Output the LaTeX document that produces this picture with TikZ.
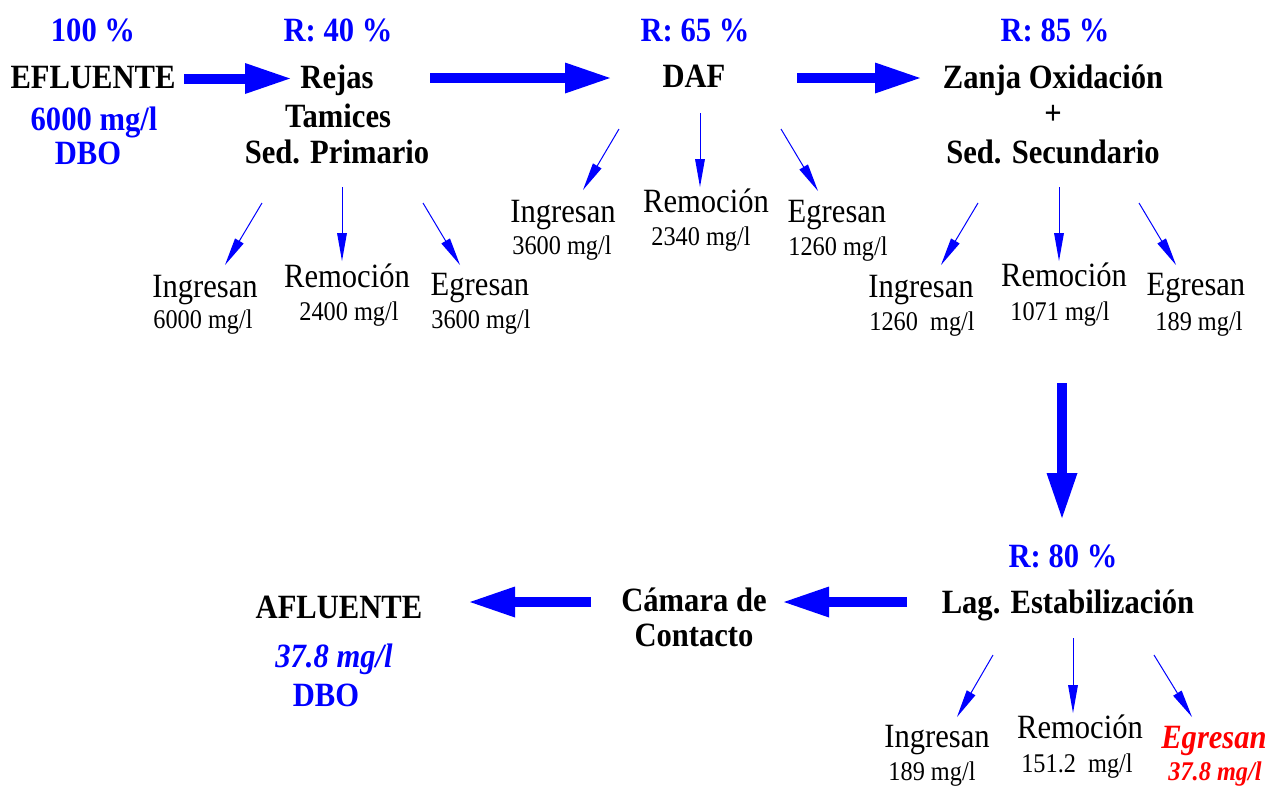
\documentclass[tikz,border=0pt]{standalone}
\usepackage{fontspec}
\setmainfont[FakeStretch=0.9]{Liberation Serif}
\usetikzlibrary{arrows.meta}
\definecolor{flow}{RGB}{0,0,255}
\definecolor{outred}{RGB}{255,0,0}
\tikzset{
  txt/.style={anchor=base, inner sep=0pt, outer sep=0pt},
  stage/.style={txt, font=\fontsize{34}{40}\selectfont\bfseries},
  pct/.style={stage, text=flow},
  lbl/.style={txt, font=\fontsize{34}{40}\selectfont},
  val/.style={txt, font=\fontsize{27}{32}\selectfont},
  bigflow/.style={draw=flow, line width=10pt,
    -{Triangle[length=45pt,width=31pt,line width=0pt]}},
  split/.style={draw=flow, line width=1pt,
    -{Triangle[length=28pt,width=10pt,line width=0pt]}},
}
\begin{document}
\begin{tikzpicture}[x=1pt,y=-1pt]
\useasboundingbox (0,0) rectangle (1272,785);

% ---- main line, top row ----
\node[pct]   (p0)  at (93,41)   {100 \%};
\node[stage] (efl) at (93,88)   {EFLUENTE};
\node[pct]   (efv) at (94,130)  {6000 mg/l};
\node[pct]   (efd) at (88,164)  {DBO};

\node[pct]   (p1)  at (338,41)  {R: 40 \%};
\node[stage] (s1a) at (337,88)  {Rejas};
\node[stage] (s1b) at (338,127) {Tamices};
\node[stage] (s1c) at (337,163) {Sed. Primario};

\node[pct]   (p2)  at (695,41)  {R: 65 \%};
\node[stage] (s2)  at (694,87)  {DAF};

\node[pct]   (p3)  at (1055,41)  {R: 85 \%};
\node[stage] (s3a) at (1053,88)  {Zanja Oxidación};
\node[stage] (s3b) at (1053,124) {+};
\node[stage] (s3c) at (1053,163) {Sed. Secundario};

% ---- bottom row ----
\node[pct]   (p4)  at (1063,567) {R: 80 \%};
\node[stage] (s4)  at (1068,613) {Lag. Estabilización};

\node[stage] (s5a) at (694,611) {Cámara de};
\node[stage] (s5b) at (694,646) {Contacto};

\node[stage] (afl) at (339,618) {AFLUENTE};
\node[pct, font=\fontsize{34}{40}\selectfont\bfseries\itshape] (afv) at (334,667) {37.8 mg/l};
\node[pct]   (afd) at (326,706) {DBO};

% ---- main flow arrows ----
\coordinate (m1s) at (184,78.5);  \coordinate (m1e) at (290,78.5);
\coordinate (m2s) at (430,78);    \coordinate (m2e) at (610,78);
\coordinate (m3s) at (797,78);    \coordinate (m3e) at (920,78);
\coordinate (m4s) at (1062,383);  \coordinate (m4e) at (1062,518);
\coordinate (m5s) at (907,602);   \coordinate (m5e) at (784,602);
\coordinate (m6s) at (591,602);   \coordinate (m6e) at (470,602);
\draw[bigflow] (m1s) -- (m1e);
\draw[bigflow] (m2s) -- (m2e);
\draw[bigflow] (m3s) -- (m3e);
\draw[bigflow] (m4s) -- (m4e);
\draw[bigflow] (m5s) -- (m5e);
\draw[bigflow] (m6s) -- (m6e);

% ---- balance under Rejas / Tamices / Sed. Primario ----
\node[lbl] (i1) at (205,297) {Ingresan};
\node[val] (i1v) at (203,328) {6000 mg/l};
\node[lbl] (r1) at (347,287) {Remoción};
\node[val] (r1v) at (349,320) {2400 mg/l};
\node[lbl] (e1) at (480,295) {Egresan};
\node[val] (e1v) at (481,328) {3600 mg/l};
\coordinate (a1s) at (262,203); \coordinate (a1e) at (225,265);
\coordinate (b1s) at (342,187); \coordinate (b1e) at (342,261);
\coordinate (c1s) at (423,203); \coordinate (c1e) at (460,265);
\draw[split] (a1s) -- (a1e);
\draw[split] (b1s) -- (b1e);
\draw[split] (c1s) -- (c1e);

% ---- balance under DAF ----
\node[lbl] (i2) at (563,222) {Ingresan};
\node[val] (i2v) at (562,254) {3600 mg/l};
\node[lbl] (r2) at (706,212) {Remoción};
\node[val] (r2v) at (701,245) {2340 mg/l};
\node[lbl] (e2) at (837,222) {Egresan};
\node[val] (e2v) at (838,255) {1260 mg/l};
\coordinate (a2s) at (619,129); \coordinate (a2e) at (583,190);
\coordinate (b2s) at (700,113); \coordinate (b2e) at (700,187);
\coordinate (c2s) at (781,129); \coordinate (c2e) at (818,191);
\draw[split] (a2s) -- (a2e);
\draw[split] (b2s) -- (b2e);
\draw[split] (c2s) -- (c2e);

% ---- balance under Zanja Oxidación + Sed. Secundario ----
\node[lbl] (i3) at (921,297) {Ingresan};
\node[val] (i3v) at (922,330) {1260\ \ mg/l};
\node[lbl] (r3) at (1064,286) {Remoción};
\node[val] (r3v) at (1060,320) {1071 mg/l};
\node[lbl] (e3) at (1196,295) {Egresan};
\node[val] (e3v) at (1199,330) {189 mg/l};
\coordinate (a3s) at (978,203);  \coordinate (a3e) at (941,265);
\coordinate (b3s) at (1059,187); \coordinate (b3e) at (1059,261);
\coordinate (c3s) at (1139,203); \coordinate (c3e) at (1176,265);
\draw[split] (a3s) -- (a3e);
\draw[split] (b3s) -- (b3e);
\draw[split] (c3s) -- (c3e);

% ---- balance under Lag. Estabilización ----
\node[lbl] (i4) at (937,747) {Ingresan};
\node[val] (i4v) at (932,780) {189 mg/l};
\node[lbl] (r4) at (1080,738) {Remoción};
\node[val] (r4v) at (1077,772) {151.2\ \ mg/l};
\node[lbl, text=outred, font=\fontsize{34}{40}\selectfont\bfseries\itshape] (e4) at (1214,748) {Egresan};
\node[val, text=outred, font=\fontsize{27}{32}\selectfont\bfseries\itshape] (e4v) at (1215,780) {37.8 mg/l};
\coordinate (a4s) at (993,655);  \coordinate (a4e) at (957,717);
\coordinate (b4s) at (1073,638); \coordinate (b4e) at (1073,713);
\coordinate (c4s) at (1154,655); \coordinate (c4e) at (1192,717);
\draw[split] (a4s) -- (a4e);
\draw[split] (b4s) -- (b4e);
\draw[split] (c4s) -- (c4e);
\end{tikzpicture}
\end{document}
